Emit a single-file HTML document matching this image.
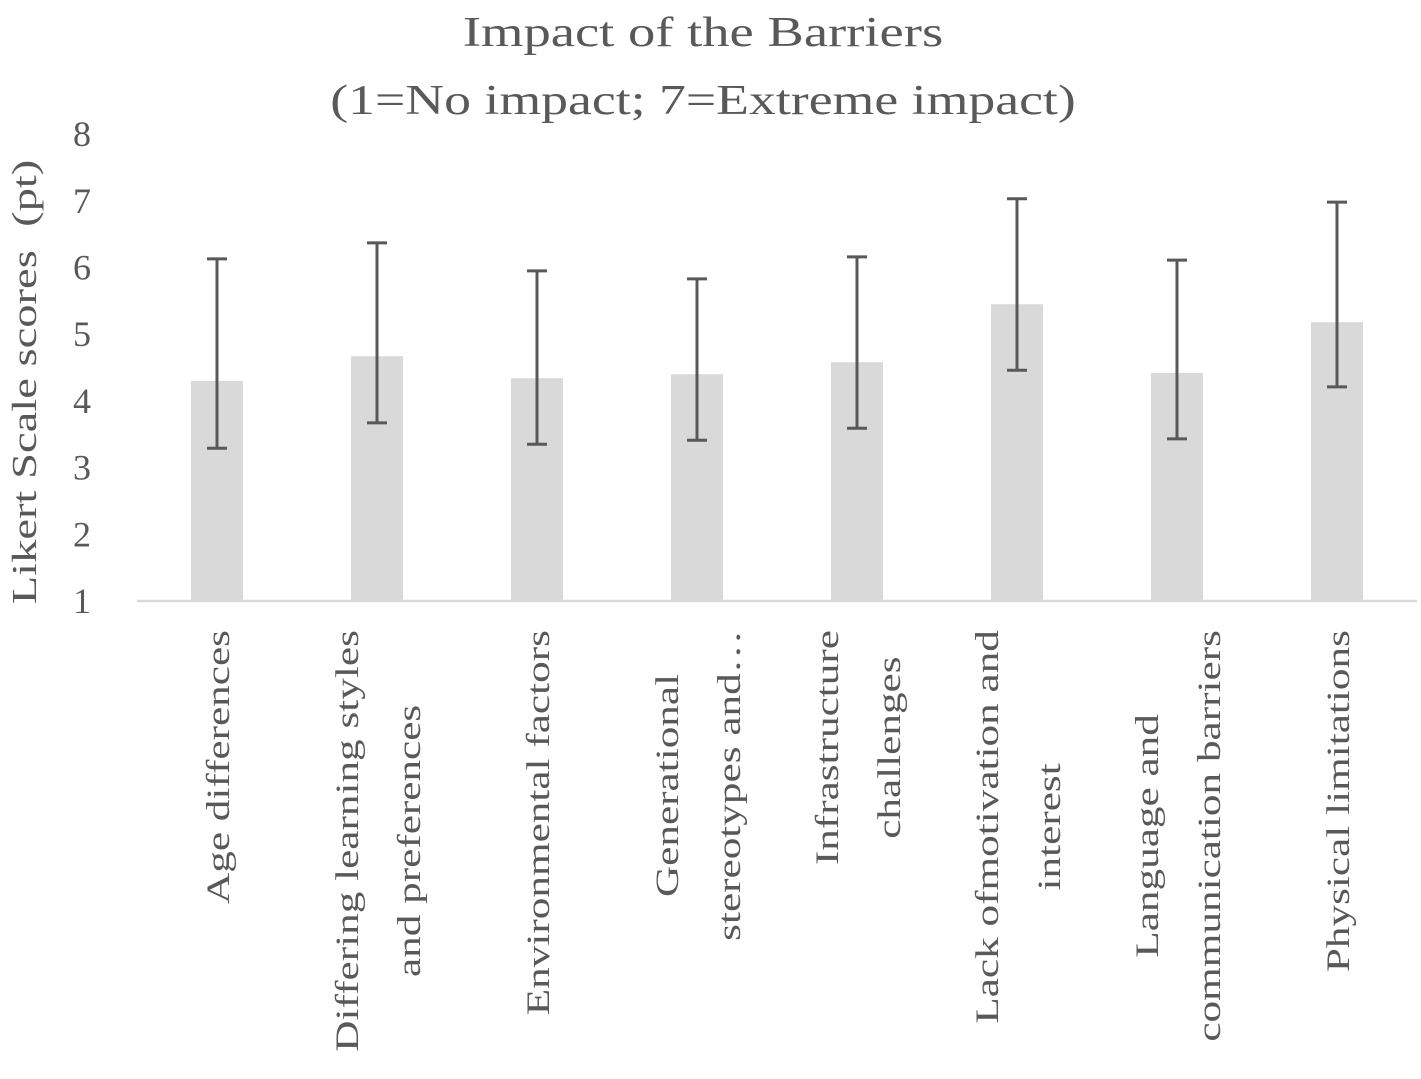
<!DOCTYPE html>
<html><head><meta charset="utf-8"><style>
html,body{margin:0;padding:0;background:#fff;}
svg{display:block;font-family:"Liberation Serif",serif;}
</style></head><body>
<svg id="chart" width="1421" height="1079" viewBox="0 0 1421 1079" xmlns="http://www.w3.org/2000/svg">
<text transform="translate(703,46) scale(1.3,1)" text-anchor="middle" font-size="42" fill="#595959">Impact of the Barriers</text>
<text transform="translate(703,114) scale(1.28,1)" text-anchor="middle" font-size="42" fill="#595959">(1=No impact; 7=Extreme impact)</text>
<text transform="translate(36,382) rotate(-90) scale(1.33,1)" text-anchor="middle" font-size="35" fill="#595959">Likert Scale scores&#160;&#160;(pt)</text>
<g id="yticks"></g>
<g id="bars"></g>
<g id="errs"></g>
<g id="xlabels"></g>
<line x1="137" y1="601" x2="1417" y2="601" stroke="#d9d9d9" stroke-width="2.5"/>
</svg>
<script>
const categories = [["Age differences"],["Differing learning styles","and preferences"],["Environmental factors"],["Generational","stereotypes and…"],["Infrastructure","challenges"],["Lack ofmotivation and","interest"],["Language and","communication barriers"],["Physical limitations"]];
const values = [4.30, 4.67, 4.34, 4.40, 4.58, 5.45, 4.42, 5.18];
const errUpper = [6.13, 6.37, 5.95, 5.83, 6.16, 7.03, 6.11, 6.98];
const errLower = [3.29, 3.67, 3.35, 3.41, 3.59, 4.46, 3.43, 4.21];
const yTicks = [1,2,3,4,5,6,7,8];

const NS="http://www.w3.org/2000/svg";
const y0=601, unit=66.7, left=137, band=160, barW=52, sx=1.31;
function yScale(v){return y0-(v-1)*unit;}
function xCenter(i){return left+band*i+band/2;}
function mk(tag,attrs,parent){const e=document.createElementNS(NS,tag);for(const k in attrs)e.setAttribute(k,attrs[k]);parent.appendChild(e);return e;}

const gy=document.getElementById('yticks');
yTicks.forEach(t=>{
  const e=mk('text',{x:82,y:yScale(t)+12,'text-anchor':'middle','font-size':36,fill:'#595959'},gy);
  
  
  e.textContent=t;
});
const gb=document.getElementById('bars'), ge=document.getElementById('errs'), gx=document.getElementById('xlabels');
values.forEach((v,i)=>{
  const cx=xCenter(i);
  const r=mk('rect',{x:cx-barW/2,y:yScale(v),width:barW,height:y0-yScale(v),fill:'#d9d9d9'},gb);
  
  
  const g=mk('g',{stroke:'#595959','stroke-width':3},ge);
  
  
  const yu=yScale(errUpper[i]), yl=yScale(errLower[i]);
  mk('line',{x1:cx,y1:yu,x2:cx,y2:yl},g);
  mk('line',{x1:cx-10,y1:yu,x2:cx+10,y2:yu},g);
  mk('line',{x1:cx-10,y1:yl,x2:cx+10,y2:yl},g);
  const lines=categories[i], lh=62, n=lines.length;
  const els=lines.map((s,j)=>{
    const t=mk('text',{'font-size':33,fill:'#595959'},gx);
    
    
    t.textContent=s;
    return t;
  });
  const widths=els.map(t=>t.getComputedTextLength()*sx);
  const maxW=Math.max(...widths);
  const centerY=630+maxW/2;
  els.forEach((t,j)=>{
    const off=(j-(n-1)/2)*lh;
    const bx=cx+off+12;
    t.setAttribute('text-anchor','middle');
    t.setAttribute('transform',`translate(${bx},${centerY}) rotate(-90) scale(${sx},1)`);
  });
});
</script>
</body></html>
